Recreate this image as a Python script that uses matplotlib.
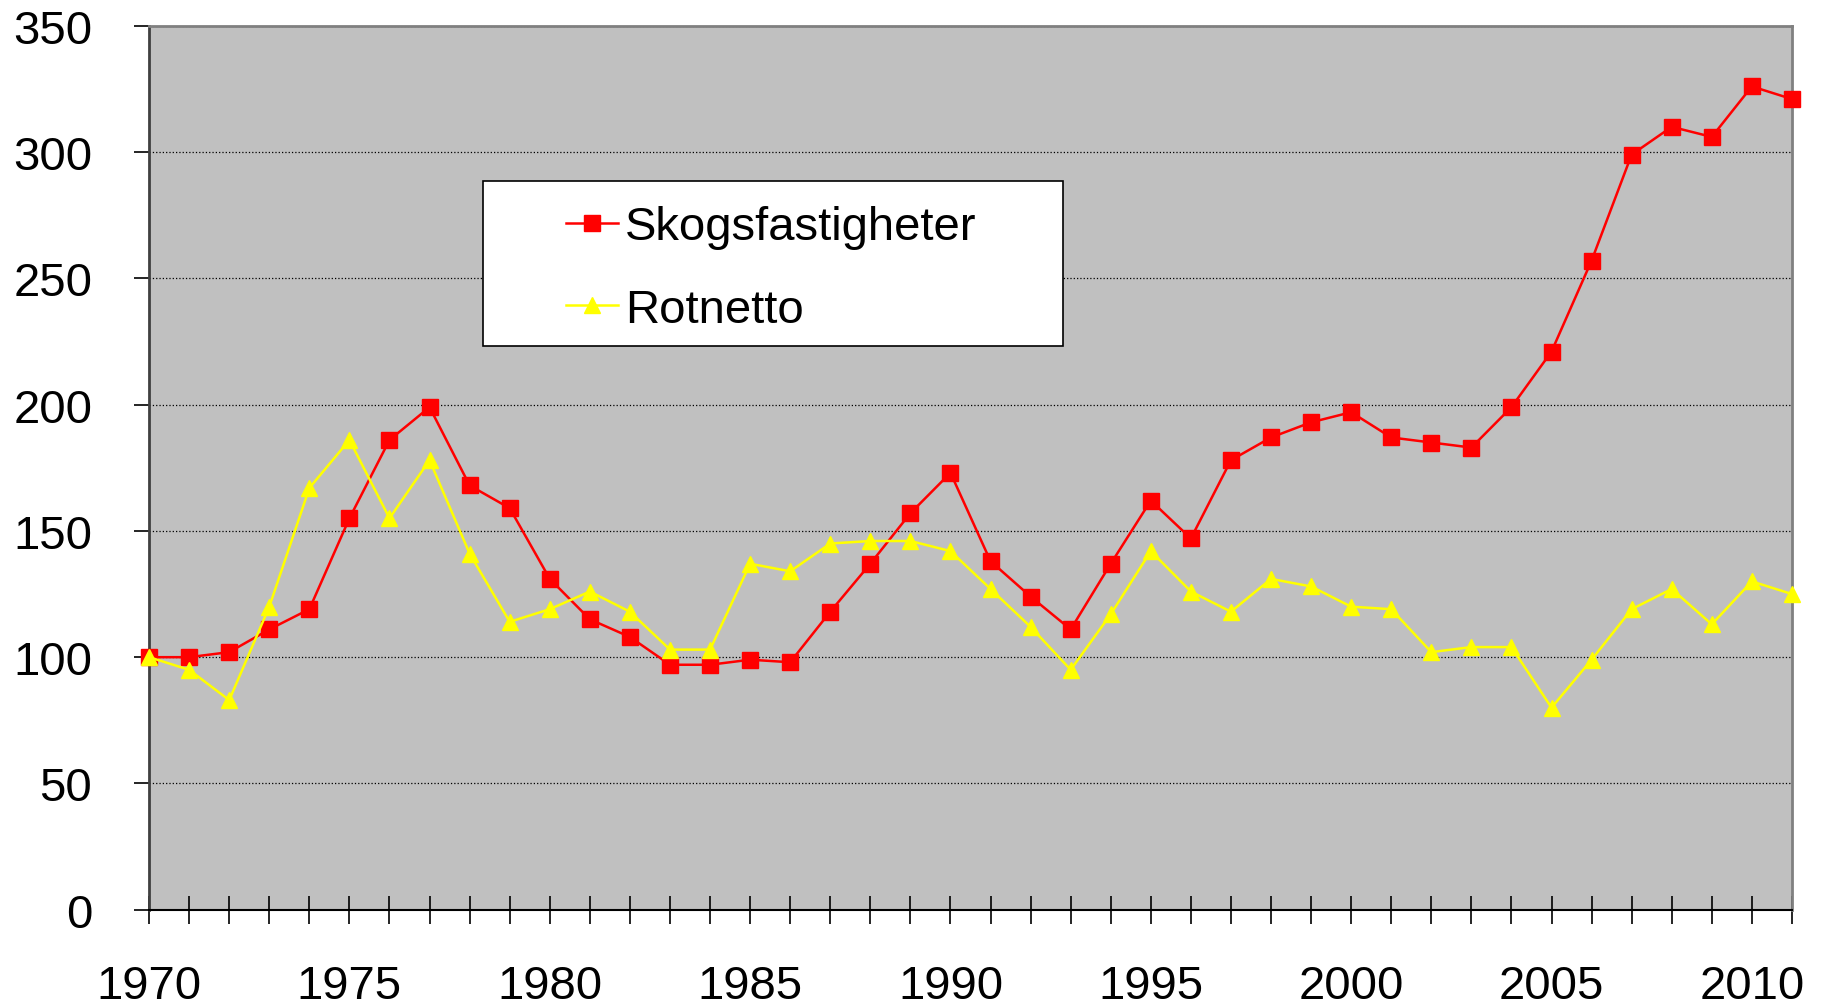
import numpy as np
import matplotlib.pyplot as plt
from matplotlib.patches import Rectangle

plt.rcParams['font.family'] = ['Liberation Sans', 'DejaVu Sans']

years = list(range(1970, 2012))
skog = [100, 100, 102, 111, 119, 155, 186, 199, 168, 159,
        131, 115, 108, 97, 97, 99, 98, 118, 137, 157,
        173, 138, 124, 111, 137, 162, 147, 178, 187, 193,
        197, 187, 185, 183, 199, 221, 257, 299, 310, 306,
        326, 321]
rotnetto = [100, 95, 83, 120, 167, 186, 155, 178, 141, 114,
            119, 126, 118, 103, 103, 137, 134, 145, 146, 146,
            142, 127, 112, 95, 117, 142, 126, 118, 131, 128,
            120, 119, 102, 104, 104, 80, 99, 119, 127, 113,
            130, 125]

fig = plt.figure(figsize=(18.27, 10.04), dpi=100)
ax = fig.add_axes([0.0816, 0.0929, 0.8992, 0.8804])
ax.set_facecolor('#C0C0C0')

ax.plot(years, skog, color='#FF0000', lw=1.8, marker='s', ms=11,
        label='Skogsfastigheter', clip_on=False, zorder=3)
ax.plot(years, rotnetto, color='#FFFF00', lw=1.8, marker='^', ms=11,
        label='Rotnetto', clip_on=False, zorder=3)

ax.set_xlim(1970, 2011)
ax.set_ylim(0, 350)
ax.set_yticks(np.arange(0, 351, 50))
ax.set_xticks(np.arange(1970, 2011, 5))
ax.set_xticks(np.arange(1970, 2012, 1), minor=True)

ax.grid(axis='y', color='black', linestyle=':', linewidth=0.9)
ax.set_axisbelow(True)

ax.tick_params(axis='y', labelsize=34, length=11, width=1.2, pad=30)
ax.tick_params(axis='x', which='both', direction='inout', length=20, width=1.2)
ax.tick_params(axis='x', which='major', labelsize=34, pad=29)

ax.spines['left'].set_color('#404040')
ax.spines['left'].set_linewidth(2)
ax.spines['bottom'].set_color('black')
ax.spines['bottom'].set_linewidth(1.5)
ax.spines['top'].set_color('#808080')
ax.spines['top'].set_linewidth(2)
ax.spines['right'].set_color('#808080')
ax.spines['right'].set_linewidth(2)

# legend box
ax.add_patch(Rectangle((0.203, 0.638), 0.3533, 0.1868, transform=ax.transAxes,
                       facecolor='white', edgecolor='black', lw=1.2, zorder=4))
leg = ax.legend(loc='upper left', bbox_to_anchor=(0.2538, 0.797),
                fontsize=34, frameon=False, borderpad=0,
                labelspacing=0.82, handlelength=1.1, handletextpad=0.15,
                borderaxespad=0)
leg.set_zorder(5)

fig.savefig('out.png', dpi=100)
